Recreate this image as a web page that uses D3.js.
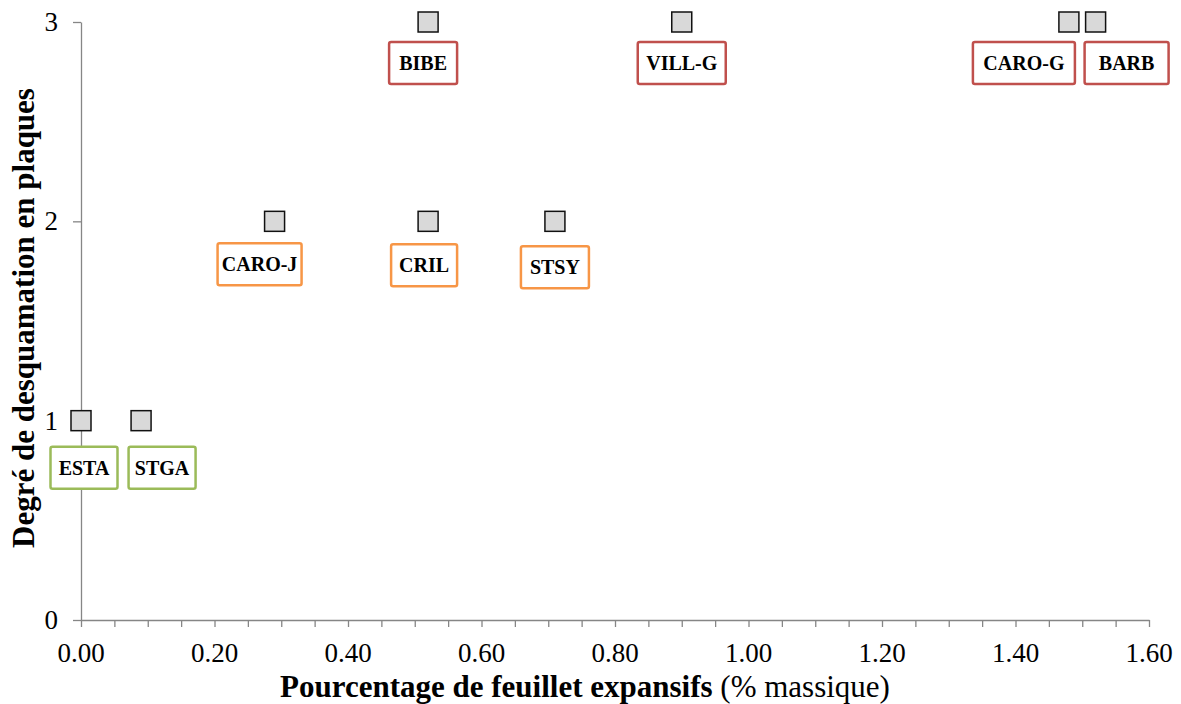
<!DOCTYPE html>
<html>
<head>
<meta charset="utf-8">
<script src="https://cdn.jsdelivr.net/npm/d3@7"></script>
<style>
  body { margin: 0; background: #fff; }
</style>
</head>
<body>
<svg id="canvas" width="1181" height="704"></svg>
<script>
// donnees
const sites = ["ESTA", "STGA", "CARO-J", "CRIL", "STSY", "BIBE", "VILL-G", "CARO-G", "BARB"];
const feuillets = [0.00, 0.09, 0.29, 0.52, 0.71, 0.52, 0.90, 1.48, 1.52];
const degres = [1, 1, 2, 2, 2, 3, 3, 3, 3];
const ticksX = [0, 0.2, 0.4, 0.6, 0.8, 1.0, 1.2, 1.4, 1.6];
const ticksY = [0, 1, 2, 3];

// mise en page des etiquettes (deplacees a la main dans l'original) : [dx, dy, largeur]
const cadres = [[3, 47, 67], [21, 47, 67], [-15, 43, 84], [-4, 44, 66], [0, 46, 68],
                [-5, 41, 68], [0, 41, 88], [-45, 41, 102], [31, 41, 84]];

const couleurs = { 1: "#9bbb59", 2: "#f79646", 3: "#c0504d" };
const police = '"Liberation Serif", "Times New Roman", serif';

const svg = d3.select("#canvas");
const marge = { gauche: 81, droite: 1149, haut: 22, bas: 620 };

const scalaX = d3.scaleLinear().domain([0, 1.6]).range([marge.gauche, marge.droite]);
const scalaY = d3.scaleLinear().domain([0, 3]).range([marge.bas, marge.haut]);

// axe X
const axeX = svg.append("g")
  .attr("transform", `translate(0,${marge.bas})`)
  .call(d3.axisBottom(scalaX)
    .tickValues(d3.range(0, 1.6001, 0.05))
    .tickSize(7)
    .tickSizeOuter(0)
    .tickFormat(""));
axeX.select(".domain").attr("stroke", "#868686").attr("stroke-width", 1.3);
axeX.selectAll(".tick line").attr("stroke", "#868686").attr("stroke-width", 1.3);

svg.append("g").selectAll("text")
  .data(ticksX)
  .enter()
  .append("text")
  .attr("x", d => scalaX(d))
  .attr("y", 662)
  .attr("text-anchor", "middle")
  .style("font-family", police)
  .style("font-size", "27px")
  .attr("fill", "#000")
  .text(d => d.toFixed(2));

// axe Y
const axeY = svg.append("g")
  .attr("transform", `translate(${marge.gauche},0)`)
  .call(d3.axisLeft(scalaY)
    .tickValues(ticksY)
    .tickSize(8)
    .tickSizeOuter(0)
    .tickFormat(""));
axeY.select(".domain").attr("stroke", "#868686").attr("stroke-width", 1.3);
axeY.selectAll(".tick line").attr("stroke", "#868686").attr("stroke-width", 1.3);

svg.append("g").selectAll("text")
  .data(ticksY)
  .enter()
  .append("text")
  .attr("x", 58)
  .attr("y", d => scalaY(d) + 9)
  .attr("text-anchor", "end")
  .style("font-family", police)
  .style("font-size", "27px")
  .attr("fill", "#000")
  .text(d => d);

// titres
const titreX = svg.append("text")
  .attr("x", 585)
  .attr("y", 697)
  .attr("text-anchor", "middle")
  .style("font-family", police)
  .style("font-size", "31px")
  .attr("fill", "#000");
titreX.append("tspan").style("font-weight", "bold").text("Pourcentage de feuillet expansifs");
titreX.append("tspan").text(" (% massique)");

svg.append("text")
  .attr("transform", "translate(34,318) rotate(-90)")
  .attr("text-anchor", "middle")
  .style("font-family", police)
  .style("font-size", "31px")
  .style("font-weight", "bold")
  .attr("fill", "#000")
  .text("Degré de desquamation en plaques");

// points
svg.append("g").selectAll("rect")
  .data(sites)
  .enter()
  .append("rect")
  .attr("x", (d, i) => scalaX(feuillets[i]) - 10)
  .attr("y", (d, i) => scalaY(degres[i]) - 10)
  .attr("width", 20)
  .attr("height", 20)
  .attr("fill", "#d9d9d9")
  .attr("stroke", "#111")
  .attr("stroke-width", 1.5);

// etiquettes
const etiquettes = svg.append("g").selectAll("g")
  .data(sites)
  .enter()
  .append("g")
  .attr("transform", (d, i) => `translate(${scalaX(feuillets[i]) + cadres[i][0]},${scalaY(degres[i]) + cadres[i][1]})`);

etiquettes.append("rect")
  .attr("x", (d, i) => -cadres[i][2] / 2)
  .attr("y", -21)
  .attr("width", (d, i) => cadres[i][2])
  .attr("height", 42)
  .attr("rx", 2)
  .attr("fill", "#fff")
  .attr("stroke", (d, i) => couleurs[degres[i]])
  .attr("stroke-width", 2.5);

etiquettes.append("text")
  .attr("text-anchor", "middle")
  .attr("y", 7)
  .style("font-family", police)
  .style("font-size", "20px")
  .style("font-weight", "bold")
  .attr("fill", "#000")
  .text(d => d);
</script>
</body>
</html>
